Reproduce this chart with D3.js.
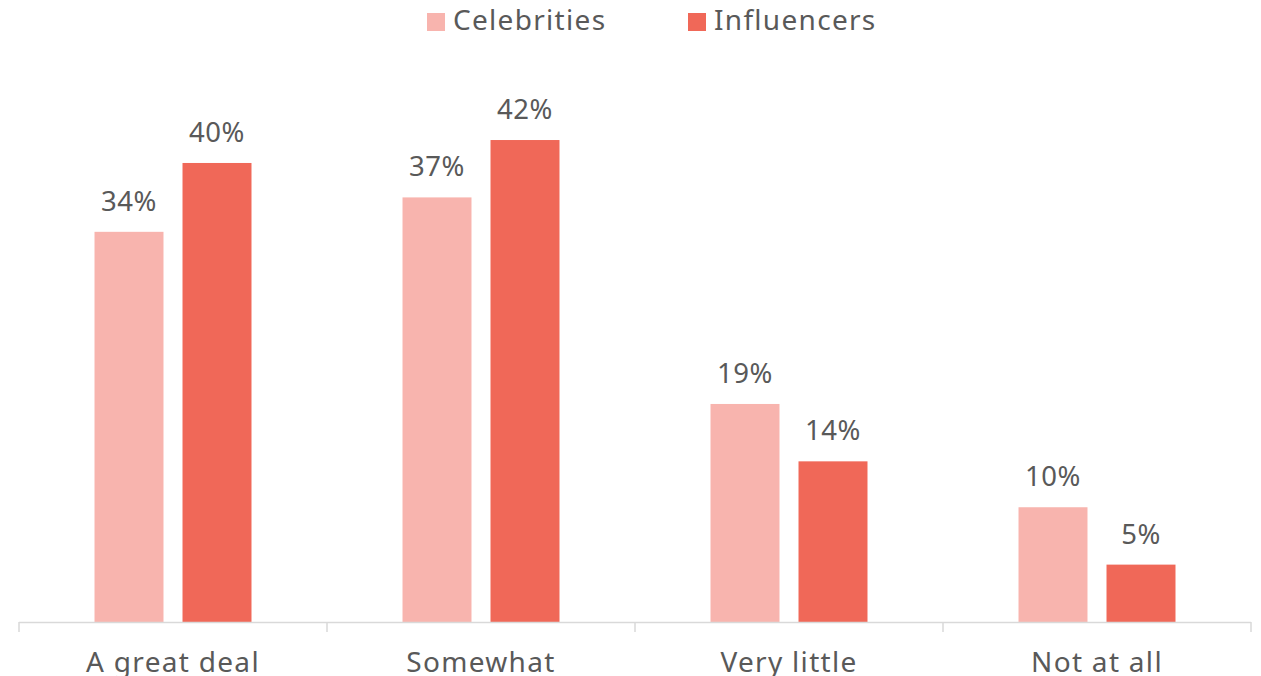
<!DOCTYPE html>
<html>
<head>
<meta charset="utf-8">
<script src="https://cdn.jsdelivr.net/npm/d3@7"></script>
<style>
  body { margin: 0; background: #fff; }
  text { font-family: "Noto Sans", sans-serif; fill: #595959; }
</style>
</head>
<body>
<svg width="1261" height="676"></svg>
<script>
// data
var categories = ["A great deal", "Somewhat", "Very little", "Not at all"];
var seriesNames = ["Celebrities", "Influencers"];
var celebrities = [34, 37, 19, 10];
var influencers = [40, 42, 14, 5];
var seriesColors = ["#F8B4AE", "#F06858"];

var svg = d3.select("svg");

var rows = categories.map(function(c, i) {
    return { cat: c, values: [celebrities[i], influencers[i]] };
});

// scales
var x0 = d3.scaleBand()
    .domain(categories)
    .range([19, 1251])
    .padding(0);

var x1 = d3.scaleBand()
    .domain(seriesNames)
    .range([0, x0.bandwidth()])
    .paddingInner(0.216)
    .paddingOuter(0.858);

var y = d3.scaleLinear()
    .domain([0, 45])
    .range([622, 105.6]);

var color = d3.scaleOrdinal().domain(seriesNames).range(seriesColors);

// bars
var groups = svg.selectAll("g.cat")
    .data(rows)
    .enter().append("g")
    .attr("class", "cat")
    .attr("transform", function(d) { return "translate(" + x0(d.cat) + ",0)"; });

groups.selectAll("rect")
    .data(function(d) { return d.values.map(function(v, j) { return { s: seriesNames[j], v: v }; }); })
    .enter().append("rect")
    .attr("x", function(d) { return x1(d.s); })
    .attr("width", x1.bandwidth())
    .attr("y", function(d) { return y(d.v); })
    .attr("height", function(d) { return y(0) - y(d.v); })
    .attr("fill", function(d) { return color(d.s); });

// value labels
groups.selectAll("text.val")
    .data(function(d) { return d.values.map(function(v, j) { return { s: seriesNames[j], v: v }; }); })
    .enter().append("text")
    .attr("class", "val")
    .attr("x", function(d) { return x1(d.s) + x1.bandwidth() / 2; })
    .attr("y", function(d) { return y(d.v) - 21; })
    .attr("text-anchor", "middle")
    .attr("font-size", 27.5)
    .attr("letter-spacing", 0.5)
    .text(function(d) { return d.v + "%"; });

// x axis with ticks between categories
var axis = svg.append("g");
axis.append("line")
    .attr("x1", x0.range()[0]).attr("x2", x0.range()[1])
    .attr("y1", y(0) + 0.5).attr("y2", y(0) + 0.5)
    .attr("stroke", "#D9D9D9").attr("stroke-width", 1.5);

var tickPos = categories.map(function(c) { return x0(c); }).concat([x0.range()[1]]);
axis.selectAll("line.tick")
    .data(tickPos)
    .enter().append("line")
    .attr("class", "tick")
    .attr("x1", function(d) { return d; }).attr("x2", function(d) { return d; })
    .attr("y1", y(0)).attr("y2", y(0) + 10)
    .attr("stroke", "#D9D9D9").attr("stroke-width", 1.5);

axis.selectAll("text")
    .data(categories)
    .enter().append("text")
    .attr("x", function(d) { return x0(d) + x0.bandwidth() / 2; })
    .attr("y", 672)
    .attr("text-anchor", "middle")
    .attr("font-size", 28)
    .attr("letter-spacing", 1.3)
    .text(function(d) { return d; });

// legend
var legendX = [427, 688];
var legend = svg.selectAll("g.legend")
    .data(seriesNames)
    .enter().append("g")
    .attr("class", "legend")
    .attr("transform", function(d, i) { return "translate(" + legendX[i] + ",0)"; });

legend.append("rect")
    .attr("x", 0).attr("y", 13)
    .attr("width", 18).attr("height", 18)
    .attr("fill", function(d) { return color(d); });

legend.append("text")
    .attr("x", 26)
    .attr("y", 30)
    .attr("font-size", 28)
    .attr("letter-spacing", 1.3)
    .text(function(d) { return d; });
</script>
</body>
</html>
